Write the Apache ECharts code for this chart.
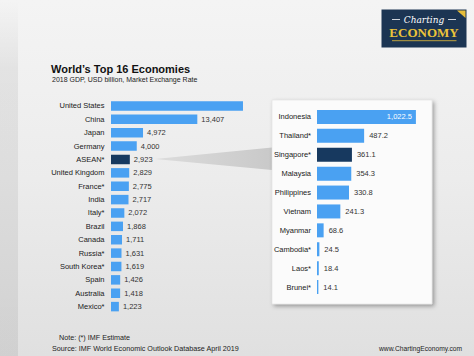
<!DOCTYPE html>
<html>
<head>
<meta charset="utf-8">
<script src="https://cdn.jsdelivr.net/npm/echarts@6/dist/echarts.min.js"></script>
<style>
html,body{margin:0;padding:0;background:#eeeeee;}
#chart{width:474px;height:356px;}
</style>
</head>
<body>
<div id="chart"></div>
<script>
// ---- Data ----
const countries = ["United States","China","Japan","Germany","ASEAN*","United Kingdom","France*","India","Italy*","Brazil","Canada","Russia*","South Korea*","Spain","Australia","Mexico*"];
const gdp = [20494, 13407, 4972, 4000, 2923, 2829, 2775, 2717, 2072, 1868, 1711, 1631, 1619, 1426, 1418, 1223];
const aseanMembers = ["Indonesia","Thailand*","Singapore*","Malaysia","Philippines","Vietnam","Myanmar","Cambodia*","Laos*","Brunei*"];
const aseanGdp = [1022.5, 487.2, 361.1, 354.3, 330.8, 241.3, 68.6, 24.5, 18.4, 14.1];
const highlightMain = "ASEAN*";
const highlightInset = "Singapore*";
const unlabeledMain = "United States";

const titleText = "World\u2019s Top 16 Economies";
const subtitleText = "2018 GDP, USD billion, Market Exchange Rate";
const noteText = "Note: (*) IMF Estimate";
const sourceText = "Source: IMF World Economic Outlook Database April 2019";
const siteText = "www.ChartingEconomy.com";

// ---- Styles ----
const FONT = "'Liberation Sans', Arial, sans-serif";
const BLUE = "#4aa1f2";
const NAVY = "#17395f";

const chart = echarts.init(document.getElementById('chart'), null, {renderer: 'svg'});

const mainData = countries.map((c, i) => ({
  value: gdp[i],
  itemStyle: {color: c === highlightMain ? NAVY : BLUE},
  label: {show: c !== unlabeledMain}
}));
const insetData = aseanMembers.map((c, i) => {
  const item = {value: aseanGdp[i], itemStyle: {color: c === highlightInset ? NAVY : BLUE}};
  if (i === 0) item.label = {position: 'insideRight', color: '#ffffff', distance: 4};
  return item;
});

const fmt0 = v => v.toLocaleString('en-US');
const fmt1 = v => v.toLocaleString('en-US', {minimumFractionDigits: 1, maximumFractionDigits: 1});

const option = {
  animation: false,
  textStyle: {fontFamily: FONT},
  title: [
    {text: titleText, left: 51, top: 62, padding: 0,
     textStyle: {fontFamily: FONT, fontSize: 11, fontWeight: 'bold', color: '#111', lineHeight: 13}},
    {text: subtitleText, left: 52, top: 75, padding: 0,
     textStyle: {fontFamily: FONT, fontSize: 7, fontWeight: 'normal', color: '#222', lineHeight: 8}},
    {text: noteText, left: 59, top: 333, padding: 0,
     textStyle: {fontFamily: FONT, fontSize: 7.2, fontWeight: 'normal', color: '#222', lineHeight: 9}},
    {text: sourceText, left: 52, top: 344, padding: 0,
     textStyle: {fontFamily: FONT, fontSize: 7.2, fontWeight: 'normal', color: '#222', lineHeight: 9}},
    {text: siteText, left: 379, top: 344, padding: 0,
     textStyle: {fontFamily: FONT, fontSize: 6.7, fontWeight: 'normal', color: '#222', lineHeight: 9}}
  ],
  graphic: [
    {type: 'rect', z: -20, silent: true, shape: {x: 0, y: 0, width: 474, height: 356},
     style: {fill: new echarts.graphic.LinearGradient(0, 0, 0, 1, [
       {offset: 0, color: '#f4f4f4'}, {offset: 0.5, color: '#ececec'}, {offset: 1, color: '#e0e0e0'}])}},
    {type: 'rect', z: -19, silent: true, shape: {x: 0, y: 0, width: 18, height: 356},
     style: {fill: new echarts.graphic.LinearGradient(0, 0, 0, 1, [
       {offset: 0, color: 'rgba(0,0,0,0)'}, {offset: 0.2, color: 'rgba(0,0,0,0.06)'},
       {offset: 1, color: 'rgba(0,0,0,0.07)'}])}},
    // connector wedge
    {type: 'polygon', z: -15, silent: true, shape: {points: [[155, 159], [272, 147.5], [272, 170]]},
     style: {fill: new echarts.graphic.LinearGradient(0, 0, 1, 0, [
       {offset: 0, color: '#dcdcdc'}, {offset: 1, color: '#c9c9c9'}])}},
    // inset box
    {type: 'rect', z: -10, silent: true, shape: {x: 272, y: 100, width: 160, height: 204},
     style: {fill: '#fbfbfb', stroke: '#d8d8d8', lineWidth: 0.5,
             shadowBlur: 4, shadowOffsetX: 2, shadowOffsetY: 2, shadowColor: 'rgba(0,0,0,0.35)'}},
    // logo
    {type: 'rect', z: 5, silent: true, shape: {x: 381.5, y: 9.5, width: 85, height: 38}, style: {fill: '#1c3553'}},
    {type: 'polygon', z: 6, silent: true, shape: {points: [[457, 10.5], [465.5, 10.5], [465.5, 18]]}, style: {fill: '#e6bd3a'}},
    {type: 'line', z: 6, silent: true, shape: {x1: 392, y1: 19.5, x2: 400, y2: 19.5}, style: {stroke: '#ffffff', lineWidth: 0.8}},
    {type: 'line', z: 6, silent: true, shape: {x1: 448, y1: 19.5, x2: 456, y2: 19.5}, style: {stroke: '#ffffff', lineWidth: 0.8}},
    {type: 'text', z: 6, silent: true, x: 424, y: 19.5,
     style: {text: 'Charting', fill: '#ffffff', font: "italic 9px 'DejaVu Serif', serif", align: 'center', verticalAlign: 'middle'}},
    {type: 'text', z: 6, silent: true, x: 424, y: 32.5,
     style: {text: 'ECONOMY', fill: '#ebc33a', font: "bold 13px 'Liberation Serif', 'DejaVu Serif', serif", align: 'center', verticalAlign: 'middle'}},
    {type: 'line', z: 6, silent: true, shape: {x1: 392, y1: 40.7, x2: 456.5, y2: 40.7}, style: {stroke: '#e6bd3a', lineWidth: 0.8}}
  ],
  grid: [
    {left: 111, top: 99.3, width: 161, height: 214},
    {left: 317, top: 107.5, width: 106.4, height: 189}
  ],
  xAxis: [
    {gridIndex: 0, type: 'value', min: 0, max: 25000, show: false},
    {gridIndex: 1, type: 'value', min: 0, max: 1100, show: false}
  ],
  yAxis: [
    {gridIndex: 0, type: 'category', data: countries, inverse: true,
     axisLine: {show: false}, axisTick: {show: false}, splitLine: {show: false},
     axisLabel: {fontFamily: FONT, fontSize: 7.5, color: '#1a1a1a', margin: 6.5}},
    {gridIndex: 1, type: 'category', data: aseanMembers, inverse: true,
     axisLine: {show: false}, axisTick: {show: false}, splitLine: {show: false},
     axisLabel: {fontFamily: FONT, fontSize: 7.5, color: '#1a1a1a', margin: 6}}
  ],
  series: [
    {type: 'bar', xAxisIndex: 0, yAxisIndex: 0, data: mainData, barWidth: 9.5,
     label: {show: true, position: 'right', distance: 4, fontFamily: FONT, fontSize: 7.5, color: '#333',
             formatter: p => fmt0(p.value)}},
    {type: 'bar', xAxisIndex: 1, yAxisIndex: 1, data: insetData, barWidth: 14,
     label: {show: true, position: 'right', distance: 5, fontFamily: FONT, fontSize: 7.5, color: '#333',
             formatter: p => fmt1(p.value)}}
  ]
};
chart.setOption(option);
</script>
</body>
</html>
